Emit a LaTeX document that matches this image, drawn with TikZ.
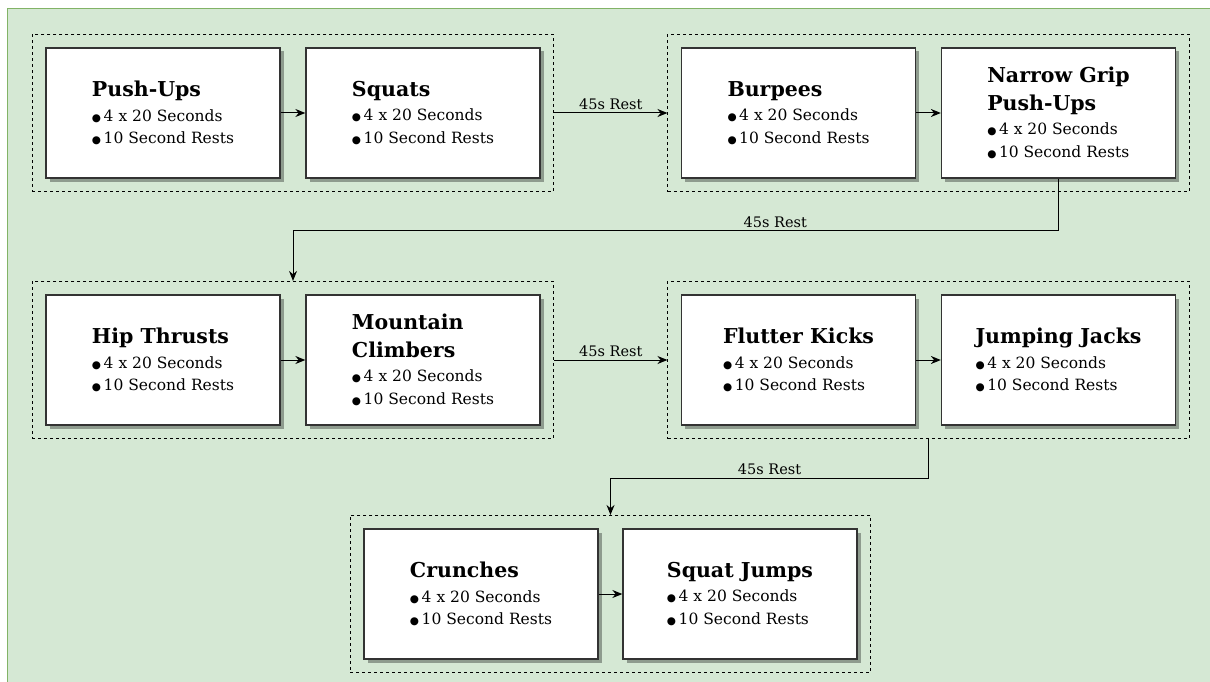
\documentclass[tikz,border=0pt]{standalone}
\usepackage{fontspec}
\setmainfont{DejaVu Serif}
\newfontfamily\symfont{DejaVu Sans}
\usetikzlibrary{arrows.meta,shadows,fit}

\definecolor{bgfill}{HTML}{D5E8D4}
\definecolor{bgline}{HTML}{82B366}
\definecolor{boxline}{HTML}{333333}

% exercise title and bullet line inside a box
\newcommand{\exname}[1]{{\fontsize{20.5}{25}\selectfont\bfseries #1}}
\newcommand{\exitem}[1]{{\symfont\fontsize{10.5}{10}\selectfont ●}\,#1}

\tikzset{
  exbox/.style={draw=boxline, line width=1.3pt, fill=white,
    minimum width=234pt, minimum height=130pt, inner sep=0pt,
    align=left, font=\fontsize{15.5}{22.7}\selectfont,
    drop shadow={shadow xshift=3.5pt, shadow yshift=-3.5pt, fill=black, opacity=0.33}},
  grp/.style={draw=black, line width=0.8pt, dash pattern=on 3pt off 3pt,
    inner sep=13pt},
  arr/.style={draw=black, line width=1pt, -{Stealth[length=10pt,width=8pt]}},
  lbl/.style={font=\fontsize{14.5}{16}\selectfont, inner sep=2.5pt}
}

\begin{document}
\begin{tikzpicture}[x=1pt, y=-1pt]
\useasboundingbox (0,0) rectangle (1210,682);
\filldraw[fill=bgfill, draw=bgline, line width=1pt] (7,9) rectangle (1230,700);

% row 1
\node[exbox] (b1) at (163,113) {\exname{Push-Ups}\\[2pt]\exitem{4 x 20 Seconds}\\\exitem{10 Second Rests}};
\node[exbox] (b2) at (423,113) {\exname{Squats}\\[2pt]\exitem{4 x 20 Seconds}\\\exitem{10 Second Rests}};
\node[exbox] (b3) at (798.5,113) {\exname{Burpees}\\[2pt]\exitem{4 x 20 Seconds}\\\exitem{10 Second Rests}};
\node[exbox] (b4) at (1058.5,113) {\exname{Narrow Grip}\\[5pt]\exname{Push-Ups}\\[2pt]\exitem{4 x 20 Seconds}\\\exitem{10 Second Rests}};

% row 2
\node[exbox] (b5) at (163,360) {\exname{Hip Thrusts}\\[2pt]\exitem{4 x 20 Seconds}\\\exitem{10 Second Rests}};
\node[exbox] (b6) at (423,360) {\exname{Mountain}\\[5pt]\exname{Climbers}\\[2pt]\exitem{4 x 20 Seconds}\\\exitem{10 Second Rests}};
\node[exbox] (b7) at (798.5,360) {\exname{Flutter Kicks}\\[2pt]\exitem{4 x 20 Seconds}\\\exitem{10 Second Rests}};
\node[exbox] (b8) at (1058.5,360) {\exname{Jumping Jacks}\\[2pt]\exitem{4 x 20 Seconds}\\\exitem{10 Second Rests}};

% row 3
\node[exbox] (b9) at (481,594) {\exname{Crunches}\\[2pt]\exitem{4 x 20 Seconds}\\\exitem{10 Second Rests}};
\node[exbox] (b10) at (740,594) {\exname{Squat Jumps}\\[2pt]\exitem{4 x 20 Seconds}\\\exitem{10 Second Rests}};

% dashed groups
\node[grp, fit=(b1)(b2)] (g1) {};
\node[grp, fit=(b3)(b4)] (g2) {};
\node[grp, fit=(b5)(b6)] (g3) {};
\node[grp, fit=(b7)(b8)] (g4) {};
\node[grp, fit=(b9)(b10)] (g5) {};

% connectors inside groups
\draw[arr] (b1) -- (b2);
\draw[arr] (b3) -- (b4);
\draw[arr] (b5) -- (b6);
\draw[arr] (b7) -- (b8);
\draw[arr] (b9) -- (b10);

% rests between groups
\draw[arr] (g1.east) -- node[lbl, above] {45s Rest} (g2.west);
\draw[arr] (g3.east) -- node[lbl, above] {45s Rest} (g4.west);
\draw[arr] (b4.south) -- ++(0,52) -| node[lbl, above, pos=0.185] {45s Rest} (g3.north);
\draw[arr] (g4.south) -- ++(0,39) -| node[lbl, above, pos=0.25] {45s Rest} (g5.north);
\end{tikzpicture}
\end{document}
